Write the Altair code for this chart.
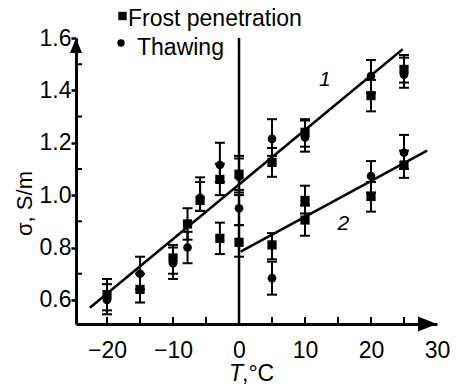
import altair as alt
import pandas as pd

# ---- data ----
frost_T = [-20, -15, -10, -7.8, -5.9, -2.9, -2.9, 0, 0, 5, 5, 10, 10, 10, 20, 20, 25, 25]
frost_s = [0.62, 0.64, 0.76, 0.89, 0.98, 1.06, 0.835, 1.08, 0.82, 1.125, 0.81, 1.24, 0.98, 0.905, 1.38, 0.995, 1.48, 1.115]
frost_lo = [0.56, 0.59, 0.70, 0.83, 0.94, 1.00, 0.775, 1.02, 0.765, 1.07, 0.755, 1.185, 0.93, 0.845, 1.32, 0.937, 1.43, 1.066]
frost_hi = [0.68, 0.70, 0.81, 0.95, 1.05, 1.12, 0.895, 1.14, 0.885, 1.18, 0.855, 1.29, 1.036, 0.96, 1.44, 1.05, 1.535, 1.17]

thaw_T = [-20, -15, -10, -7.8, -5.9, -2.9, 0, 0, 5, 5, 10, 20, 20, 25, 25]
thaw_s = [0.60, 0.70, 0.74, 0.80, 0.99, 1.115, 1.07, 0.95, 1.215, 0.683, 1.22, 1.455, 1.073, 1.46, 1.162]
thaw_lo = [0.545, 0.64, 0.68, 0.74, 0.94, 1.05, 1.01, 0.886, 1.15, 0.62, 1.166, 1.39, 1.01, 1.41, 1.10]
thaw_hi = [0.66, 0.765, 0.80, 0.86, 1.068, 1.20, 1.15, 1.00, 1.29, 0.746, 1.285, 1.516, 1.13, 1.525, 1.23]

fit_T = [-22.6, 24.8, 0.25, 28.5]
fit_s = [0.57, 1.557, 0.784, 1.17]
fit_id = ["1", "1", "2", "2"]

curve_label = ["1", "2"]
curve_label_T = [13.0, 15.8]
curve_label_s = [1.44, 0.89]

x_labels = [-20, -10, 0, 10, 20, 30]
x_ticks = [-20, -15, -10, -5, 0, 5, 10, 15, 20, 25]
y_labels = [0.6, 0.8, 1.0, 1.2, 1.4, 1.6]
y_minor = [0.7, 0.9, 1.1, 1.3, 1.5]

series_names = ["Frost penetration", "Thawing"]

# ---- layout ----
W, H = 361, 286
FONT = "Liberation Sans"
FS = 23

xs = alt.Scale(domain=[-24.7, 30], nice=False, zero=False)
ys = alt.Scale(domain=[0.508, 1.6], nice=False, zero=False)

df_f = pd.DataFrame({"T": frost_T, "s": frost_s, "lo": frost_lo, "hi": frost_hi})
df_t = pd.DataFrame({"T": thaw_T, "s": thaw_s, "lo": thaw_lo, "hi": thaw_hi})
df_all = pd.concat([df_f, df_t], ignore_index=True)
df_fit = pd.DataFrame({"T": fit_T, "s": fit_s, "id": fit_id})
df_lab = pd.DataFrame({"T": curve_label_T, "s": curve_label_s, "t": curve_label})

X = alt.X("T:Q", scale=xs, axis=alt.Axis(values=x_labels, ticks=False, grid=False,
                                          labelFontSize=FS, labelFont=FONT, labelColor="black",
                                          labelPadding=15, labelFlush=False,
                                          domainColor="black", domainWidth=3, title=None))
Y = alt.Y("s:Q", scale=ys, axis=alt.Axis(values=y_labels, tickSize=5, tickWidth=2.5, tickColor="black",
                                          grid=False, labelFontSize=FS, labelFont=FONT,
                                          labelColor="black", labelPadding=0, labelFlush=False,
                                          format=".1f", domainColor="black", domainWidth=3,
                                          title="σ, S/m", titleFont=FONT, titleFontSize=22,
                                          titleFontWeight="normal", titleColor="black",
                                          titleX=-52, titleY=165, titleAngle=-90,
                                          titleAlign="center", titleBaseline="middle"))

axes = alt.Chart(df_all).mark_point(opacity=0).encode(x=X, y=Y)

vline = alt.Chart(pd.DataFrame({"T": [0]})).mark_rule(color="black", strokeWidth=2.5).encode(
    x=alt.X("T:Q", scale=xs), y=alt.value(0), y2=alt.value(H))

fits = alt.Chart(df_fit).mark_line(color="black", strokeWidth=2.5).encode(
    x=alt.X("T:Q", scale=xs), y=alt.Y("s:Q", scale=ys), detail="id:N")

err = alt.Chart(df_all).mark_rule(color="black", strokeWidth=2).encode(
    x=alt.X("T:Q", scale=xs), y=alt.Y("lo:Q", scale=ys), y2="hi:Q")
cap_lo = alt.Chart(df_all).mark_tick(orient="horizontal", size=10, thickness=2, color="black", opacity=1).encode(
    x=alt.X("T:Q", scale=xs), y=alt.Y("lo:Q", scale=ys))
cap_hi = alt.Chart(df_all).mark_tick(orient="horizontal", size=10, thickness=2, color="black", opacity=1).encode(
    x=alt.X("T:Q", scale=xs), y=alt.Y("hi:Q", scale=ys))

sq = alt.Chart(df_f).mark_square(size=85, color="black", opacity=1).encode(
    x=alt.X("T:Q", scale=xs), y=alt.Y("s:Q", scale=ys))
ci = alt.Chart(df_t).mark_circle(size=75, color="black", opacity=1).encode(
    x=alt.X("T:Q", scale=xs), y=alt.Y("s:Q", scale=ys))

labs = alt.Chart(df_lab).mark_text(font=FONT, fontSize=21, fontStyle="italic", color="black").encode(
    x=alt.X("T:Q", scale=xs), y=alt.Y("s:Q", scale=ys), text="t:N")

xt = alt.Chart(pd.DataFrame({"T": x_ticks})).mark_rule(color="black", strokeWidth=2).encode(
    x=alt.X("T:Q", scale=xs), y=alt.value(H), y2=alt.value(H - 7))
yt = alt.Chart(pd.DataFrame({"s": y_minor})).mark_rule(color="black", strokeWidth=2).encode(
    y=alt.Y("s:Q", scale=ys), x=alt.value(0), x2=alt.value(6))

arrow_y = alt.Chart(pd.DataFrame({"a": [0]})).mark_point(
    shape="M-0.8,1L0,-1L0.8,1Z", size=225, filled=True, color="black", opacity=1).encode(
    x=alt.value(0), y=alt.value(7.5))
arrow_x = alt.Chart(pd.DataFrame({"a": [0]})).mark_point(
    shape="M-1,-0.8L1,0L-1,0.8Z", size=361, filled=True, color="black", opacity=1).encode(
    x=alt.value(W - 9.5), y=alt.value(H))

# legend (manual)
leg_sq = alt.Chart(pd.DataFrame({"a": [0]})).mark_square(size=70, color="black", opacity=1).encode(
    x=alt.value(46.5), y=alt.value(-22))
leg_ci = alt.Chart(pd.DataFrame({"a": [0]})).mark_circle(size=55, color="black", opacity=1).encode(
    x=alt.value(45), y=alt.value(5))
leg_t1 = alt.Chart(pd.DataFrame({"t": [series_names[0]]})).mark_text(
    font=FONT, fontSize=FS, align="left", baseline="alphabetic", color="black").encode(
    x=alt.value(52), y=alt.value(-12), text="t:N")
leg_t2 = alt.Chart(pd.DataFrame({"t": [series_names[1]]})).mark_text(
    font=FONT, fontSize=FS, align="left", baseline="alphabetic", color="black").encode(
    x=alt.value(61), y=alt.value(17), text="t:N")

# x title
xt1 = alt.Chart(pd.DataFrame({"t": ["T"]})).mark_text(
    font=FONT, fontSize=FS, fontStyle="italic", align="left", baseline="alphabetic", color="black").encode(
    x=alt.value(153), y=alt.value(343), text="t:N")
xt2 = alt.Chart(pd.DataFrame({"t": [",°C"]})).mark_text(
    font=FONT, fontSize=FS, align="left", baseline="alphabetic", color="black").encode(
    x=alt.value(166), y=alt.value(343), text="t:N")

chart = alt.layer(
    axes, vline, fits, err, cap_lo, cap_hi, sq, ci, labs, xt, yt, arrow_y, arrow_x,
    leg_sq, leg_ci, leg_t1, leg_t2, xt1, xt2
).properties(
    width=W, height=H,
    autosize=alt.AutoSizeParams(type="none"),
    padding={"left": 76, "top": 38, "right": 19, "bottom": 62},
    background="white"
).configure_view(stroke=None)

chart.save("out.html", embed_options={"renderer": "svg", "actions": False})
